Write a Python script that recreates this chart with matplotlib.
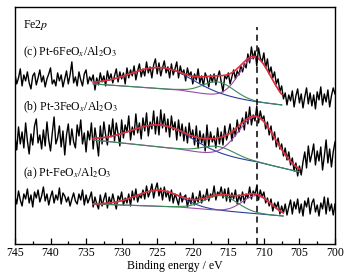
import numpy as np
import matplotlib
matplotlib.use("Agg")
import matplotlib.pyplot as plt
from matplotlib.ticker import MultipleLocator

plt.rcParams['font.family'] = ['Liberation Serif', 'DejaVu Serif']
plt.rcParams['mathtext.fontset'] = 'stix'

# Binding energy grid (eV), 745 -> 700, step 0.25
energy = np.arange(745.0, 699.99, -0.25)

# Measured spectra (offset intensity, arbitrary units), 4 points per eV
spec_c = [170, 160, 166, 175, 158, 169, 163, 172, 161, 155, 168, 171, 159, 166, 174, 162,
          168, 157, 165, 170, 176, 160, 164, 158, 171, 163, 169, 157, 165, 173, 160, 169,
          182, 161, 167, 158, 172, 164, 158, 170, 174, 160, 167, 163, 169, 154, 166, 159,
          171, 162, 168, 158, 173, 164, 170, 161, 168, 175, 162, 172, 165, 171, 160, 176,
          166, 174, 168, 178, 164, 173, 180, 167, 175, 168, 182, 171, 177, 166, 179, 185,
          170, 181, 168, 176, 183, 171, 177, 166, 180, 169, 175, 182, 166, 178, 170, 174,
          163, 176, 168, 172, 160, 170, 164, 175, 161, 168, 158, 171, 166, 157, 169, 162,
          170, 159, 167, 173, 162, 152, 168, 165, 171, 160, 167, 174, 165, 173, 169, 178,
          172, 180, 176, 190, 181, 197, 185, 193, 178, 196, 186, 182, 191, 176, 185, 170,
          177, 166, 172, 160, 165, 152, 158, 145, 151, 139, 149, 143, 153, 137, 148, 155,
          141, 150, 136, 147, 156, 140, 151, 138, 149, 135, 152, 144, 157, 139, 150, 142,
          154, 137, 148, 156, 150]
spec_b = [108, 94, 117, 100, 112, 96, 121, 103, 90, 110, 99, 118, 125, 101, 109, 95,
          114, 98, 122, 104, 93, 111, 127, 100, 106, 118, 97, 113, 89, 109, 120, 99,
          115, 102, 96, 119, 108, 124, 100, 111, 92, 113, 104, 121, 95, 116, 103, 88,
          118, 100, 122, 109, 99, 119, 107, 125, 103, 121, 110, 98, 124, 106, 119, 112,
          128, 104, 117, 109, 130, 111, 121, 105, 126, 113, 131, 108, 122, 115, 133, 110,
          127, 109, 134, 116, 130, 112, 125, 107, 128, 114, 122, 104, 124, 108, 120, 103,
          117, 101, 121, 106, 114, 99, 118, 96, 113, 101, 110, 93, 119, 98, 112, 102,
          108, 96, 116, 100, 112, 99, 118, 104, 111, 120, 103, 116, 108, 124, 112, 119,
          126, 114, 132, 120, 137, 119, 129, 123, 138, 121, 133, 124, 128, 115, 122, 109,
          118, 104, 112, 97, 106, 95, 100, 88, 96, 84, 92, 79, 86, 73, 81, 68,
          78, 69, 82, 92, 76, 98, 82, 90, 100, 79, 93, 83, 97, 74, 88, 104,
          81, 95, 77, 92, 102]
spec_a = [48, 40, 53, 44, 38, 50, 45, 55, 41, 49, 37, 52, 46, 54, 42, 48,
          57, 43, 50, 39, 47, 53, 41, 49, 44, 56, 40, 51, 48, 42, 47, 38,
          45, 51, 43, 40, 50, 44, 54, 39, 49, 41, 46, 52, 37, 47, 40, 35,
          49, 38, 45, 51, 36, 47, 40, 50, 42, 35, 48, 44, 52, 39, 46, 41,
          50, 38, 53, 44, 55, 42, 49, 46, 54, 45, 58, 47, 52, 60, 46, 55,
          61, 48, 56, 44, 57, 47, 53, 43, 54, 41, 50, 45, 39, 51, 42, 47,
          49, 37, 46, 40, 51, 39, 47, 42, 53, 41, 49, 44, 55, 43, 50, 47,
          58, 44, 52, 49, 57, 46, 55, 43, 56, 42, 51, 45, 54, 40, 49, 43,
          52, 41, 50, 46, 57, 45, 53, 49, 58, 44, 54, 47, 52, 41, 46, 38,
          45, 33, 41, 36, 42, 30, 38, 31, 40, 29, 37, 44, 30, 42, 35, 45,
          31, 40, 28, 43, 37, 46, 30, 41, 45, 32, 39, 28, 41, 35, 47, 30,
          46, 33, 40, 29, 40]

# Fit parameters
# background anchor points: binding energies (low -> high) and heights
bg_e = {'c': [707.5, 711.0, 722.0, 734.0], 'b': [705.0, 711.0, 722.0, 734.0], 'a': [707.3, 722.0, 734.0]}
bg_h = {'c': [139, 142, 154, 160], 'b': [72, 82, 95, 104], 'a': [28, 37, 40]}
# peaks: (center eV, height, sigma eV)
peak_main = {'c': (711.2, 44, 2.2), 'b': (711.0, 45, 2.6), 'a': (711.0, 18, 2.0)}
peak_sat = {'c': (716.4, 14, 2.2), 'b': (716.4, 9, 2.3), 'a': (716.0, 15, 2.3)}
peak_p12 = {'c': (724.5, 21, 4.3), 'b': (724.5, 22, 4.2), 'a': (724.8, 16, 3.2)}

labels = {'c': '(c) Pt-6FeO$_{x}$/Al$_2$O$_3$',
          'b': '(b) Pt-3FeO$_{x}$/Al$_2$O$_3$',
          'a': '(a) Pt-FeO$_{x}$/Al$_2$O$_3$'}
label_y = {'c': 192, 'b': 137, 'a': 71}

fig = plt.figure(figsize=(3.56, 2.79), dpi=100)
ax = fig.add_axes([0.042, 0.1254, 0.899, 0.85])

col_red = '#e0303c'
col_green = '#3c8a5a'
col_purple = '#9a4aa6'
col_blue = '#2c3c9c'

def gauss(x, p):
    c, h, s = p
    return h * np.exp(-(x - c) ** 2 / (2 * s ** 2))

for key, spec in (('c', spec_c), ('b', spec_b), ('a', spec_a)):
    ax.plot(energy, spec, color='black', lw=1.0, zorder=2)
    xf = np.linspace(bg_e[key][-1], bg_e[key][0], 200)
    bg = np.interp(xf, bg_e[key], bg_h[key])
    g_main = gauss(xf, peak_main[key])
    g_sat = gauss(xf, peak_sat[key])
    g_p12 = gauss(xf, peak_p12[key])
    ax.plot(xf, bg + g_p12, color=col_blue, lw=0.8, zorder=3)
    ax.plot(xf, bg + g_main, color=col_purple, lw=0.8, zorder=3)
    ax.plot(xf, bg + g_sat, color=col_green, lw=0.8, zorder=3)
    ax.plot(xf, bg + g_main + g_sat + g_p12, color=col_red, lw=1.2, zorder=4)
    ax.text(743.8, label_y[key], labels[key], fontsize=8.5, ha='left', va='center')

ax.text(743.8, 219, 'Fe2$p$', fontsize=8.5, ha='left', va='center')

ax.axvline(711.0, ymin=0, ymax=217 / 237, color='black', lw=1.1, ls=(0, (4, 3)), zorder=5)

ax.set_xlim(745, 700)
ax.set_ylim(0, 237)
ax.set_yticks([])
ax.xaxis.set_major_locator(MultipleLocator(5))
ax.xaxis.set_minor_locator(MultipleLocator(2.5))
ax.tick_params(axis='x', which='major', direction='in', length=4, width=0.9, labelsize=8.5, pad=2)
ax.tick_params(axis='x', which='minor', direction='in', length=2.5, width=0.9)
for s in ax.spines.values():
    s.set_linewidth(1.0)
ax.set_xlabel('Binding energy / eV', fontsize=8.5, labelpad=1)

fig.savefig('out.png', dpi=100)
